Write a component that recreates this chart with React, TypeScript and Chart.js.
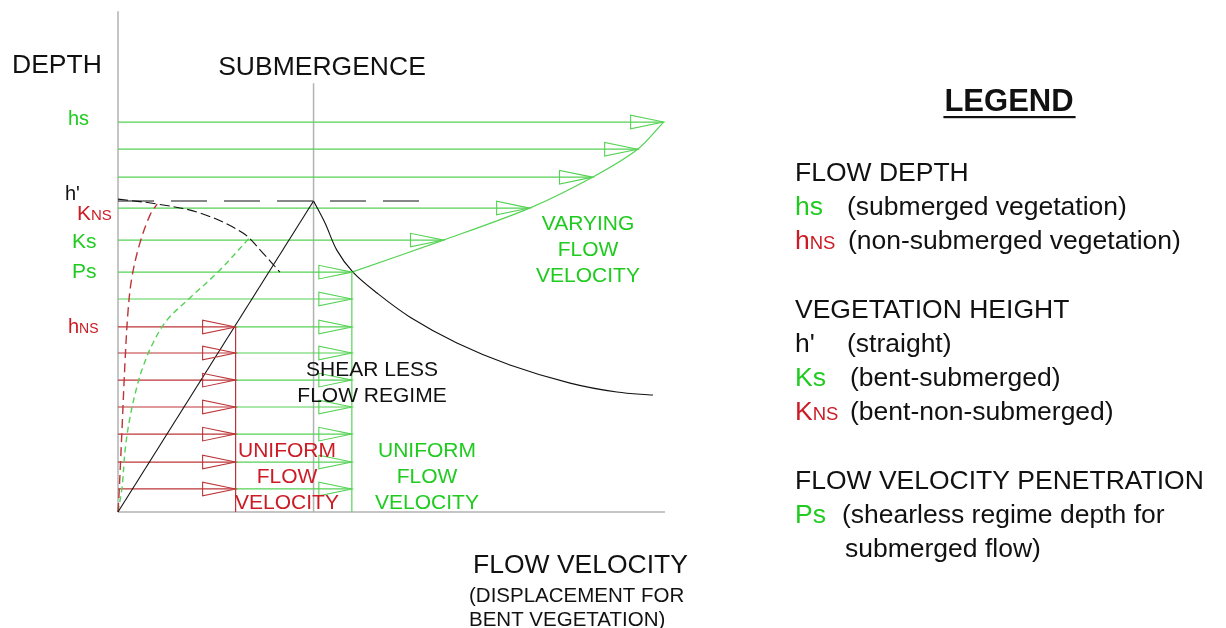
import React, { useEffect, useRef } from 'react';
import { Chart, registerables } from 'chart.js';

Chart.register(...registerables);

// ---------- data (arbitrary diagram units: velocity on x, depth on y) ----------
const rowDepths = [0.85, 1.84, 2.87, 3.87, 4.86, 5.86, 6.82, 7.85, 8.84, 10.02, 11.2, 12.34, 13.37, 14.37];
const rowVelocities = [8.55, 8.55, 8.55, 8.55, 8.55, 8.55, 8.55, 8.55, 8.55, 11.9, 15.05, 17.35, 19.0, 19.95];
const nonSubmergedVelocity = 4.3;
const nonSubmergedRowCount = 7; // rows up to hNS
const shearlessRowIndex = 8; // Ps row
const submergenceX = 7.15;
const submergenceTop = 15.8;
const straightHeight = 11.46; // h'
const straightDashEnd = 11.15;
const axisTop = 18.45;
const axisRight = 20;

const straightStemX = [0, 7.15];
const straightStemY = [0, 11.46];

const decayX = [7.15, 7.57, 8.0, 8.59, 9.47, 10.68, 12.39, 14.33, 16.53, 18.24, 19.56];
const decayY = [11.46, 10.65, 9.65, 8.84, 8.07, 7.18, 6.23, 5.42, 4.75, 4.42, 4.31];

const bentTopX = [0, 1.43, 3.0, 4.57, 5.3, 5.92];
const bentTopY = [11.53, 11.35, 11.02, 10.28, 9.54, 8.84];

const bentNonSubX = [0, 0.04, 0.15, 0.26, 0.37, 0.51, 0.8, 1.17, 1.43];
const bentNonSubY = [0, 0.7, 3.13, 5.6, 7.44, 8.66, 9.91, 10.94, 11.35];

const bentSubX = [0, 0.15, 0.26, 0.44, 0.69, 0.91, 1.28, 1.79, 2.63, 3.73, 4.83];
const bentSubY = [0, 0.92, 2.28, 3.5, 4.61, 5.34, 6.23, 7.07, 7.89, 8.92, 10.13];

// ---------- styles ----------
const GREEN_LINE = '#55d255';
const GREEN_TEXT = '#1fcb1f';
const RED_LINE = '#bd3539';
const RED_TEXT = '#cc1b24';
const GRAY = '#b2b2b2';
const BLACK = '#111111';
const FONT = '"Liberation Sans", Arial, sans-serif';

const zip = (xs: number[], ys: number[]) => xs.map((x, i) => ({ x, y: ys[i] }));

const seg = (pts: { x: number; y: number }[], color: string, width: number, dash: number[] = [], tension = 0) => ({
  data: pts,
  showLine: true,
  borderColor: color,
  backgroundColor: color,
  borderWidth: width,
  borderDash: dash,
  pointRadius: 0,
  pointHoverRadius: 0,
  tension,
  fill: false,
  clip: false as any,
});

type Piece = { t: string; size: number; color: string; bold?: boolean };
type TextItem = { x: number; y: number; align: 'left' | 'center'; pieces: Piece[] };

const P = (t: string, size: number, color: string, bold = false): Piece => ({ t, size, color, bold });

const BIG = 26.5;
const LBL = 20;
const MID = 21;

const textItems: TextItem[] = [
  { x: 12, y: 73, align: 'left', pieces: [P('DEPTH', BIG, BLACK)] },
  { x: 322, y: 75, align: 'center', pieces: [P('SUBMERGENCE', BIG, BLACK)] },
  // left depth labels
  { x: 68, y: 125, align: 'left', pieces: [P('hs', LBL, GREEN_TEXT)] },
  { x: 65, y: 200, align: 'left', pieces: [P("h'", LBL, BLACK)] },
  { x: 77, y: 220, align: 'left', pieces: [P('K', MID, RED_TEXT), P('NS', 15, RED_TEXT)] },
  { x: 72, y: 248, align: 'left', pieces: [P('Ks', MID, GREEN_TEXT)] },
  { x: 72, y: 278, align: 'left', pieces: [P('Ps', MID, GREEN_TEXT)] },
  { x: 68, y: 333, align: 'left', pieces: [P('h', LBL, RED_TEXT), P('NS', 14, RED_TEXT)] },
  // in-plot labels
  { x: 588, y: 230, align: 'center', pieces: [P('VARYING', MID, GREEN_TEXT)] },
  { x: 588, y: 256, align: 'center', pieces: [P('FLOW', MID, GREEN_TEXT)] },
  { x: 588, y: 282, align: 'center', pieces: [P('VELOCITY', MID, GREEN_TEXT)] },
  { x: 372, y: 376, align: 'center', pieces: [P('SHEAR LESS', MID, BLACK)] },
  { x: 372, y: 402, align: 'center', pieces: [P('FLOW REGIME', MID, BLACK)] },
  { x: 287, y: 457, align: 'center', pieces: [P('UNIFORM', MID, RED_TEXT)] },
  { x: 287, y: 483, align: 'center', pieces: [P('FLOW', MID, RED_TEXT)] },
  { x: 287, y: 509, align: 'center', pieces: [P('VELOCITY', MID, RED_TEXT)] },
  { x: 427, y: 457, align: 'center', pieces: [P('UNIFORM', MID, GREEN_TEXT)] },
  { x: 427, y: 483, align: 'center', pieces: [P('FLOW', MID, GREEN_TEXT)] },
  { x: 427, y: 509, align: 'center', pieces: [P('VELOCITY', MID, GREEN_TEXT)] },
  // x axis title
  { x: 473, y: 573, align: 'left', pieces: [P('FLOW VELOCITY', BIG, BLACK)] },
  { x: 469, y: 602, align: 'left', pieces: [P('(DISPLACEMENT FOR', 20.5, BLACK)] },
  { x: 469, y: 626, align: 'left', pieces: [P('BENT VEGETATION)', 20.5, BLACK)] },
  // legend
  { x: 1009, y: 111, align: 'center', pieces: [P('LEGEND', 31, BLACK, true)] },
  { x: 795, y: 181, align: 'left', pieces: [P('FLOW DEPTH', BIG, BLACK)] },
  { x: 795, y: 215, align: 'left', pieces: [P('hs', BIG, GREEN_TEXT)] },
  { x: 847, y: 215, align: 'left', pieces: [P('(submerged vegetation)', BIG, BLACK)] },
  { x: 795, y: 249, align: 'left', pieces: [P('h', BIG, RED_TEXT), P('NS', 18.5, RED_TEXT)] },
  { x: 848, y: 249, align: 'left', pieces: [P('(non-submerged vegetation)', BIG, BLACK)] },
  { x: 795, y: 318, align: 'left', pieces: [P('VEGETATION HEIGHT', BIG, BLACK)] },
  { x: 795, y: 352, align: 'left', pieces: [P("h'", BIG, BLACK)] },
  { x: 847, y: 352, align: 'left', pieces: [P('(straight)', BIG, BLACK)] },
  { x: 795, y: 386, align: 'left', pieces: [P('Ks', BIG, GREEN_TEXT)] },
  { x: 850, y: 386, align: 'left', pieces: [P('(bent-submerged)', BIG, BLACK)] },
  { x: 795, y: 420, align: 'left', pieces: [P('K', BIG, RED_TEXT), P('NS', 18.5, RED_TEXT)] },
  { x: 850, y: 420, align: 'left', pieces: [P('(bent-non-submerged)', BIG, BLACK)] },
  { x: 795, y: 489, align: 'left', pieces: [P('FLOW VELOCITY PENETRATION', BIG, BLACK)] },
  { x: 795, y: 523, align: 'left', pieces: [P('Ps', BIG, GREEN_TEXT)] },
  { x: 842, y: 523, align: 'left', pieces: [P('(shearless regime depth for', BIG, BLACK)] },
  { x: 845, y: 557, align: 'left', pieces: [P('submerged flow)', BIG, BLACK)] },
];

const fontOf = (p: Piece) => `${p.bold ? 'bold ' : ''}${p.size}px ${FONT}`;

const textPlugin = {
  id: 'diagramText',
  afterDraw(chart: any) {
    const ctx: CanvasRenderingContext2D = chart.ctx;
    ctx.save();
    ctx.textBaseline = 'alphabetic';
    ctx.textAlign = 'left';
    for (const item of textItems) {
      let total = 0;
      for (const p of item.pieces) {
        ctx.font = fontOf(p);
        total += ctx.measureText(p.t).width;
      }
      let x = item.align === 'center' ? item.x - total / 2 : item.x;
      for (const p of item.pieces) {
        ctx.font = fontOf(p);
        ctx.fillStyle = p.color;
        ctx.fillText(p.t, x, item.y);
        x += ctx.measureText(p.t).width;
      }
      if (item.pieces[0].t === 'LEGEND') {
        const left = item.x - total / 2;
        ctx.fillStyle = BLACK;
        ctx.fillRect(left - 1, item.y + 5, total + 3, 2.2);
      }
    }
    ctx.restore();
  },
};

const ARROW_LEN = 33;
const ARROW_HALF = 6.8;

const arrowPlugin = {
  id: 'arrowHeads',
  afterDatasetsDraw(chart: any) {
    const ctx: CanvasRenderingContext2D = chart.ctx;
    const xs = chart.scales.x;
    const ys = chart.scales.y;
    const tri = (vx: number, vy: number, color: string) => {
      const tx = xs.getPixelForValue(vx);
      const ty = ys.getPixelForValue(vy);
      ctx.beginPath();
      ctx.moveTo(tx, ty);
      ctx.lineTo(tx - ARROW_LEN, ty - ARROW_HALF);
      ctx.lineTo(tx - ARROW_LEN, ty + ARROW_HALF);
      ctx.closePath();
      ctx.strokeStyle = color;
      ctx.lineWidth = 1.1;
      ctx.stroke();
    };
    ctx.save();
    rowDepths.forEach((d, i) => {
      tri(rowVelocities[i], d, GREEN_LINE);
      if (i < nonSubmergedRowCount) tri(nonSubmergedVelocity, d, RED_LINE);
    });
    ctx.restore();
  },
};

const whiteBg = {
  id: 'whiteBg',
  beforeDraw(chart: any) {
    const ctx = chart.ctx;
    ctx.save();
    ctx.fillStyle = '#ffffff';
    ctx.fillRect(0, 0, chart.width, chart.height);
    ctx.restore();
  },
};

export default function App() {
  const ref = useRef<HTMLCanvasElement | null>(null);

  useEffect(() => {
    document.body.style.margin = '0';
    const canvas = ref.current;
    if (!canvas) return;

    const datasets: any[] = [];
    // black curves (on top -> first)
    datasets.push(seg(zip(straightStemX, straightStemY), BLACK, 1.1));
    datasets.push(seg(zip(decayX, decayY), BLACK, 1.1, [], 0.35));
    datasets.push(seg(zip(bentTopX, bentTopY), BLACK, 1.1, [10, 4], 0.35));
    datasets.push(seg([{ x: 0, y: straightHeight }, { x: straightDashEnd, y: straightHeight }], BLACK, 1.1, [36, 17]));
    datasets.push(seg(zip(bentNonSubX, bentNonSubY), RED_LINE, 1.4, [9, 5], 0.35));
    datasets.push(seg(zip(bentSubX, bentSubY), GREEN_LINE, 1.4, [6, 4], 0.35));
    // red uniform profile
    datasets.push(seg([{ x: nonSubmergedVelocity, y: 0 }, { x: nonSubmergedVelocity, y: rowDepths[nonSubmergedRowCount - 1] }], RED_LINE, 1.2));
    rowDepths.forEach((d, i) => {
      if (i < nonSubmergedRowCount) datasets.push(seg([{ x: 0, y: d }, { x: nonSubmergedVelocity, y: d }], RED_LINE, 1.2));
    });
    // green profile
    datasets.push(seg([{ x: rowVelocities[shearlessRowIndex], y: 0 }, { x: rowVelocities[shearlessRowIndex], y: rowDepths[shearlessRowIndex] }], GREEN_LINE, 1.2));
    datasets.push(seg(zip(rowVelocities.slice(shearlessRowIndex), rowDepths.slice(shearlessRowIndex)), GREEN_LINE, 1.2, [], 0.3));
    rowDepths.forEach((d, i) => {
      const start = i < nonSubmergedRowCount ? nonSubmergedVelocity : 0;
      datasets.push(seg([{ x: start, y: d }, { x: rowVelocities[i], y: d }], GREEN_LINE, 1.2));
    });
    // gray axes
    datasets.push(seg([{ x: submergenceX, y: 0 }, { x: submergenceX, y: submergenceTop }], GRAY, 1.5));
    datasets.push(seg([{ x: 0, y: 0 }, { x: 0, y: axisTop }], GRAY, 1.5));
    datasets.push(seg([{ x: 0, y: 0 }, { x: axisRight, y: 0 }], GRAY, 1.5));

    const chart = new Chart(canvas, {
      type: 'scatter',
      data: { datasets },
      options: {
        responsive: false,
        animation: false,
        devicePixelRatio: 1,
        layout: { padding: { left: 118, right: 1226 - 665, top: 10, bottom: 628 - 512 } },
        scales: {
          x: { type: 'linear', min: 0, max: axisRight, display: false },
          y: { type: 'linear', min: 0, max: 18.5, display: false },
        },
        plugins: {
          legend: { display: false },
          tooltip: { enabled: false },
          title: { display: false },
        },
        events: [],
      } as any,
      plugins: [whiteBg, arrowPlugin, textPlugin],
    });
    return () => chart.destroy();
  }, []);

  return (
    <div style={{ position: 'fixed', left: 0, top: 0, width: 1226, height: 628, background: '#fff' }}>
      <canvas ref={ref} width={1226} height={628} style={{ display: 'block' }} />
    </div>
  );
}
